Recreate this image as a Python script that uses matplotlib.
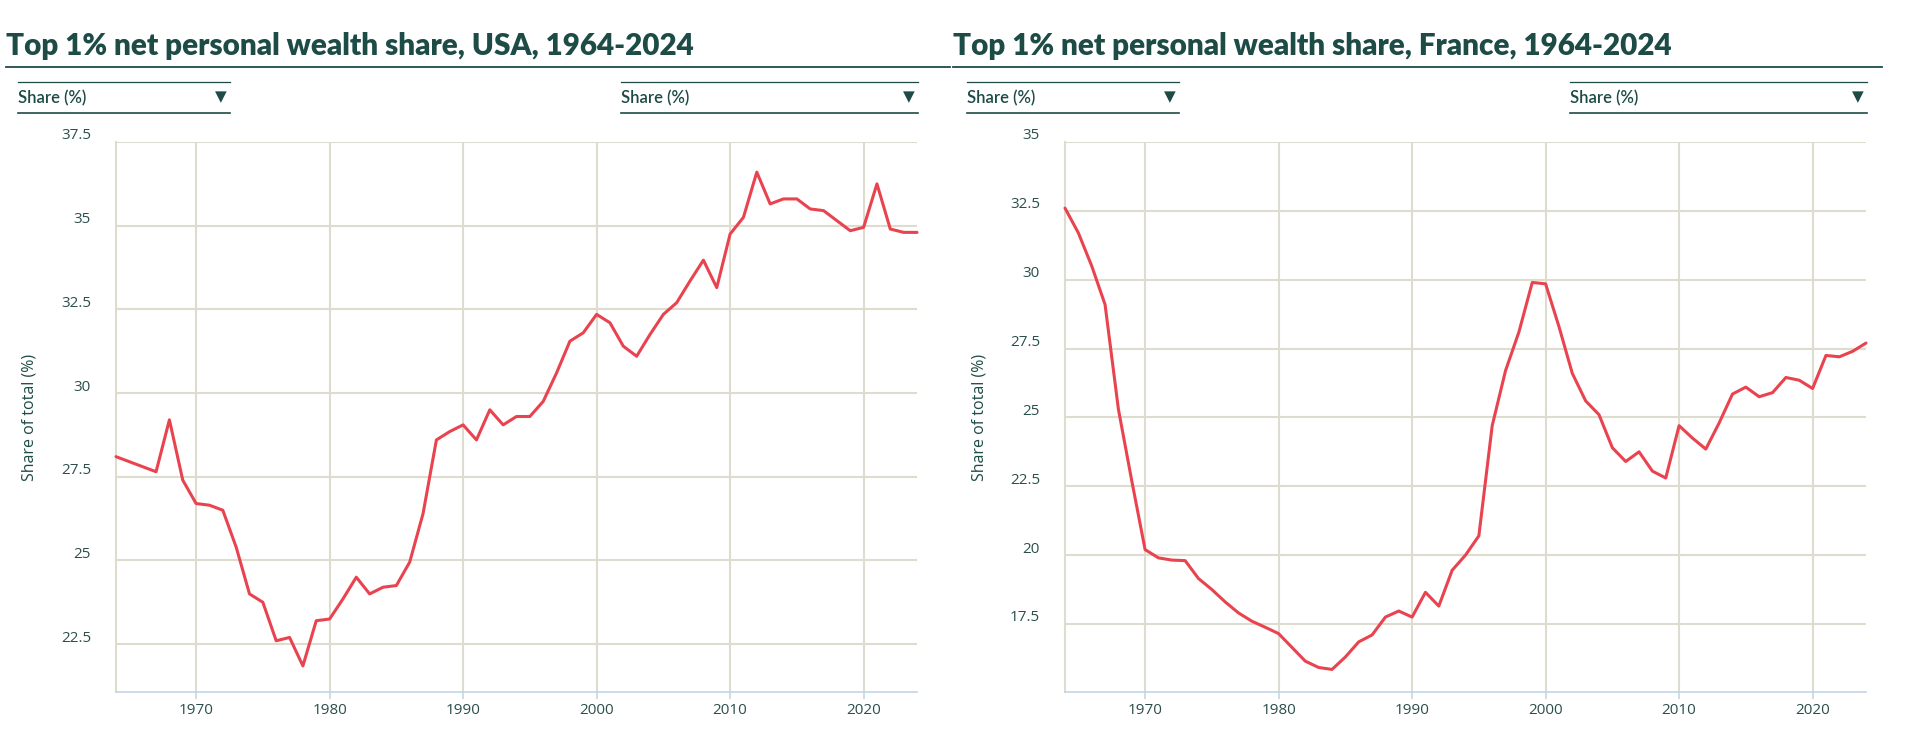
import matplotlib
matplotlib.use("Agg")
from matplotlib import pyplot as plt
from matplotlib.transforms import ScaledTranslation

# Data (top 1% share of net personal wealth, %)
years = list(range(1964, 2025))

usa_share = [
    28.1, 27.95, 27.8, 27.65, 29.2, 27.4, 26.7, 26.65, 26.5, 25.4,
    24.0, 23.75, 22.6, 22.7, 21.85, 23.2, 23.25, 23.85, 24.5, 24.0,
    24.2, 24.25, 24.95, 26.4, 28.6, 28.85, 29.05, 28.6, 29.5, 29.05,
    29.3, 29.3, 29.75, 30.6, 31.55, 31.8, 32.35, 32.1, 31.4, 31.1,
    31.75, 32.35, 32.7, 33.35, 33.97, 33.15, 34.75, 35.25, 36.6, 35.65,
    35.8, 35.8, 35.5, 35.45, 35.15, 34.85, 34.95, 36.25, 34.9, 34.8,
    34.8,
]

france_share = [
    32.6, 31.7, 30.5, 29.1, 25.3, 22.7, 20.2, 19.9, 19.82, 19.8,
    19.15, 18.75, 18.3, 17.9, 17.6, 17.38, 17.15, 16.65, 16.15, 15.92,
    15.85, 16.3, 16.85, 17.1, 17.75, 17.97, 17.75, 18.65, 18.15, 19.45,
    20.0, 20.7, 24.7, 26.7, 28.1, 29.9, 29.85, 28.3, 26.6, 25.6,
    25.1, 23.9, 23.4, 23.75, 23.05, 22.8, 24.7, 24.25, 23.85, 24.8,
    25.85, 26.1, 25.75, 25.9, 26.45, 26.35, 26.05, 27.25, 27.2, 27.4,
    27.7,
]

x_ticks = [1970, 1980, 1990, 2000, 2010, 2020]
usa_yticks = [22.5, 25, 27.5, 30, 32.5, 35, 37.5]
france_yticks = [17.5, 20, 22.5, 25, 27.5, 30, 32.5, 35]

titles = ["Top 1% net personal wealth share, USA, 1964-2024",
          "Top 1% net personal wealth share, France, 1964-2024"]
dropdown_label = "Share (%)"
ylabel = "Share of total (%)"

# colours
dark = "#1d4b46"
tick_col = "#2b4f4b"
grid_col = "#dddccf"
axis_blue = "#c4d4e6"
red = "#e9434f"

W, H = 1920, 747
fig = plt.figure(figsize=(W / 100, H / 100), dpi=100)
fig.patch.set_facecolor("white")


def fx(px):
    return px / W


def fy(py):
    return 1 - py / H


# axes rectangles in pixels (left, top, right, bottom)
panels = [
    dict(rect=(116, 142, 917, 692), data=usa_share, yticks=usa_yticks, ylim=(21.07, 37.5)),
    dict(rect=(1065, 142, 1866, 692), data=france_share, yticks=france_yticks, ylim=(15.03, 35)),
]

for p in panels:
    l, t, r, b = p["rect"]
    ax = fig.add_axes([fx(l), fy(b), (r - l) / W, (b - t) / H])
    ax.plot(years, p["data"], color=red, lw=2.2, solid_joinstyle="round",
            solid_capstyle="round", zorder=3, clip_on=False)
    ax.set_xlim(1964, 2024)
    ax.set_ylim(*p["ylim"])
    ax.set_xticks(x_ticks)
    ax.set_yticks(p["yticks"])
    ax.set_yticklabels([f"{v:g}" for v in p["yticks"]])
    ax.grid(True, color=grid_col, lw=1.5, zorder=0)
    for s in ["top", "right"]:
        ax.spines[s].set_visible(False)
    ax.spines["left"].set_color(grid_col)
    ax.spines["left"].set_linewidth(1.5)
    ax.spines["bottom"].set_color(axis_blue)
    ax.spines["bottom"].set_linewidth(1.2)
    ax.tick_params(axis="y", length=0, pad=18, labelsize=11, labelcolor=tick_col)
    ax.tick_params(axis="x", length=5, width=1.2, color=axis_blue, pad=3,
                   labelsize=11, labelcolor=tick_col)
    for lab in ax.get_yticklabels() + ax.get_xticklabels():
        lab.set_fontfamily("Open Sans")
    shift = ScaledTranslation(0, 8 / 100, fig.dpi_scale_trans)
    for lab in ax.get_yticklabels():
        lab.set_transform(lab.get_transform() + shift)
    ax.set_ylabel(ylabel, fontsize=11.5, color=dark, family="Open Sans")
    ax.yaxis.set_label_coords(-78 / 801, 0.5)

# titles and underlines
title_x = [6, 953]
line_spans = [(6, 950), (953, 1882)]
for tx, title, (x0, x1) in zip(title_x, titles, line_spans):
    fig.text(fx(tx), fy(55), title, fontsize=21.3, fontweight="heavy",
             family="Lato", color=dark, va="baseline", ha="left")
    fig.add_artist(plt.Line2D([fx(x0), fx(x1)], [fy(67), fy(67)],
                              color=dark, lw=1.3))

# dropdown selectors
dropdowns = [(18, 230), (621, 918), (967, 1179), (1570, 1867)]
for x0, x1 in dropdowns:
    fig.add_artist(plt.Line2D([fx(x0), fx(x1)], [fy(82), fy(82)], color=dark, lw=0.9))
    fig.add_artist(plt.Line2D([fx(x0), fx(x1)], [fy(113), fy(113)], color=dark, lw=1.2))
    fig.text(fx(x0), fy(98), dropdown_label, fontsize=12, fontweight="semibold",
             family="Lato", color=dark, va="center", ha="left")
    fig.text(fx(x1 - 9), fy(97), "\u25BC", fontsize=11, family="DejaVu Sans",
             color=dark, va="center", ha="center")

fig.savefig("out.png", dpi=100, facecolor="white")
